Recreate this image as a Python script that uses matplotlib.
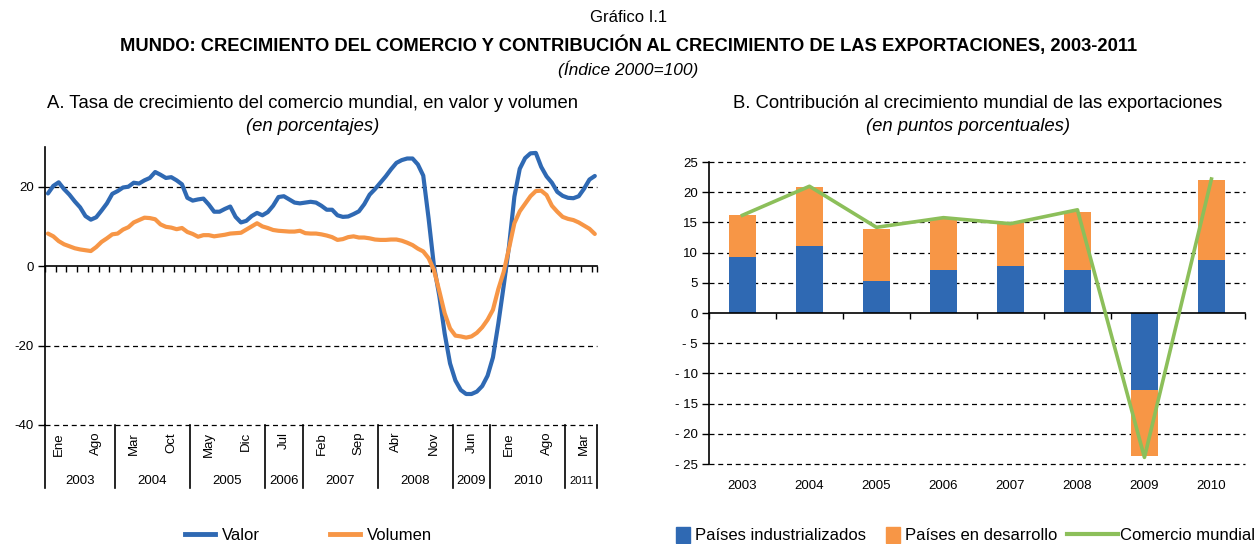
import numpy as np
import matplotlib.pyplot as plt
import matplotlib.patches as mpatches
from matplotlib.lines import Line2D

plt.rcParams['font.family'] = ['Liberation Sans', 'DejaVu Sans']
plt.rcParams['axes.unicode_minus'] = False

# --- datos panel A: tasa de crecimiento mensual (nov 2002 - may 2011) ---
meses = ['Ene', 'Feb', 'Mar', 'Abr', 'May', 'Jun', 'Jul', 'Ago', 'Sep', 'Oct', 'Nov', 'Dic']
anio_inicio = 2002
mes_inicio = 10  # noviembre

valor = [18.3, 20.2, 21.1, 19.4, 18.0, 16.3, 14.8, 12.6, 11.7, 12.3,
         14.0, 15.8, 18.2, 18.9, 19.8, 20.0, 21.0, 20.8, 21.6, 22.2,
         23.7, 23.0, 22.2, 22.4, 21.6, 20.6, 17.2, 16.5, 16.8, 17.0,
         15.5, 13.7, 13.7, 14.4, 15.0, 12.4, 11.0, 11.4, 12.6, 13.4,
         12.8, 13.6, 15.2, 17.4, 17.6, 16.8, 16.0, 15.8, 16.0, 16.2,
         16.0, 15.2, 14.2, 14.2, 12.8, 12.4, 12.5, 13.1, 13.8, 15.6,
         18.0, 19.4, 21.0, 22.6, 24.4, 26.0, 26.7, 27.1, 27.1, 25.6,
         22.8, 12.0, 0.0, -7.5, -17.0, -24.5, -28.8, -31.2, -32.2, -32.2,
         -31.6, -30.2, -27.6, -23.0, -14.5, -5.0, 5.0, 17.5, 24.5, 27.2,
         28.4, 28.5, 25.0, 22.6, 21.0, 18.7, 17.7, 17.2, 17.1, 17.6,
         19.5, 21.8, 22.7]

volumen = [8.2, 7.5, 6.3, 5.5, 5.0, 4.5, 4.2, 4.0, 3.8, 4.8,
           6.1, 7.0, 8.0, 8.2, 9.2, 9.8, 11.0, 11.6, 12.2, 12.1,
           11.8, 10.5, 9.9, 9.7, 9.3, 9.6, 8.6, 8.1, 7.4, 7.8,
           7.8, 7.5, 7.7, 7.9, 8.2, 8.3, 8.4, 9.2, 10.0, 10.8,
           10.0, 9.6, 9.1, 8.9, 8.8, 8.7, 8.7, 8.9, 8.3, 8.2,
           8.2, 8.0, 7.7, 7.3, 6.6, 6.8, 7.3, 7.5, 7.2, 7.2,
           7.0, 6.7, 6.6, 6.6, 6.7, 6.7, 6.4, 5.9, 5.3, 4.4,
           3.7, 2.0, -1.0, -6.3, -11.9, -15.7, -17.5, -17.7, -18.0, -17.7,
           -16.8, -15.4, -13.5, -11.0, -5.8, -1.5, 4.5, 10.8, 13.8, 15.7,
           17.6, 18.9, 19.0, 17.9, 15.2, 13.7, 12.4, 11.9, 11.6, 11.0,
           10.2, 9.4, 8.1]

# --- datos panel B: contribucion anual ---
anios_b = ['2003', '2004', '2005', '2006', '2007', '2008', '2009', '2010']
industrializados = [9.3, 11.1, 5.3, 7.1, 7.8, 7.2, -12.7, 8.8]
en_desarrollo = [7.0, 9.8, 8.7, 8.4, 7.2, 9.6, -11.0, 13.3]
comercio_mundial = [16.2, 21.0, 14.2, 15.8, 14.8, 17.1, -23.9, 22.2]

AZUL = '#2f69b3'
NARANJA = '#f79646'
VERDE = '#8cbf5a'

fig = plt.figure(figsize=(12.57, 5.44), dpi=100)

# titulos generales
fig.text(0.5, 0.968, 'Gráfico I.1', ha='center', va='center', fontsize=12)
fig.text(0.5, 0.917, 'MUNDO: CRECIMIENTO DEL COMERCIO Y CONTRIBUCIÓN AL CRECIMIENTO DE LAS EXPORTACIONES, 2003-2011',
         ha='center', va='center', fontsize=13.2, fontweight='bold')
fig.text(0.5, 0.873, '(Índice 2000=100)', ha='center', va='center', fontsize=12.5, style='italic')

fig.text(0.249, 0.809, 'A. Tasa de crecimiento del comercio mundial, en valor y volumen',
         ha='center', va='center', fontsize=13.3)
fig.text(0.249, 0.767, '(en porcentajes)', ha='center', va='center', fontsize=13.3, style='italic')
fig.text(0.778, 0.809, 'B. Contribución al crecimiento mundial de las exportaciones',
         ha='center', va='center', fontsize=13.3)
fig.text(0.77, 0.767, '(en puntos porcentuales)', ha='center', va='center', fontsize=13.3, style='italic')

dash = (0, (4, 3))

# ================= panel A =================
ax1 = fig.add_axes([0.0358, 0.2188, 0.4391, 0.511])
n = len(valor)
x = np.arange(n)
ax1.plot(x, valor, color=AZUL, lw=3, solid_capstyle='round', zorder=3)
ax1.plot(x, volumen, color=NARANJA, lw=3, solid_capstyle='round', zorder=3)

ax1.set_xlim(-0.55, n - 0.6)
ax1.set_ylim(-40, 30)
for g in [20, -20, -40]:
    ax1.axhline(g, color='black', lw=0.9, ls=dash, clip_on=False, zorder=1)

for s in ['top', 'right']:
    ax1.spines[s].set_visible(False)
ax1.spines['bottom'].set_position(('data', 0))
ax1.spines['bottom'].set_linewidth(1.2)
ax1.spines['left'].set_linewidth(1.2)
ax1.set_yticks([20, 0, -20, -40])
ax1.set_yticklabels(['20', '0', '-20', '-40'])
ax1.tick_params(axis='y', length=5, width=1, labelsize=9.5, pad=3)
ax1.set_xticks(list(np.arange(-0.55, n - 1, 2)) + [n - 0.6])
ax1.set_xticklabels([])
ax1.tick_params(axis='x', length=4, width=1, direction='out')

# etiquetas de meses cada 7 y agrupacion por anio
fechas = [(anio_inicio + (mes_inicio + i) // 12, (mes_inicio + i) % 12) for i in range(n)]
idx_lab = list(range(2, n, 7))
for i in idx_lab:
    ax1.annotate(meses[fechas[i][1]], xy=(i, 0), xycoords=('data', 'axes fraction'),
                 xytext=(0, -5), textcoords='offset points', rotation=90,
                 ha='center', va='top', fontsize=9.5)

cortes = [ax1.get_xlim()[0]]
for a, b in zip(idx_lab[:-1], idx_lab[1:]):
    if fechas[a][0] != fechas[b][0]:
        cortes.append((a + b) / 2)
cortes.append(ax1.get_xlim()[1])
anios_grupo = []
for i in idx_lab:
    if fechas[i][0] not in anios_grupo:
        anios_grupo.append(fechas[i][0])

trans = ax1.get_xaxis_transform()
for c in cortes:
    ax1.plot([c, c], [0, -0.227], color='black', lw=1.2, transform=trans, clip_on=False)
for k, anio in enumerate(anios_grupo):
    ancho = cortes[k + 1] - cortes[k]
    ax1.annotate(str(anio), xy=((cortes[k] + cortes[k + 1]) / 2, 0),
                 xycoords=('data', 'axes fraction'), xytext=(0, -40),
                 textcoords='offset points', ha='center', va='center',
                 fontsize=9.5 if ancho > 6 else 8)

h_a = [Line2D([], [], color=AZUL, lw=3.5), Line2D([], [], color=NARANJA, lw=3.5)]
fig.legend(h_a, ['Valor', 'Volumen'], loc='center left', bbox_to_anchor=(185 / 1257, 0.0165),
           ncol=2, frameon=False, fontsize=12, handlelength=1.8, borderpad=0,
           borderaxespad=0, handletextpad=0.42, columnspacing=4.2)

# ================= panel B =================
ax2 = fig.add_axes([0.5640, 0.147, 0.4264, 0.555])
xb = np.arange(len(anios_b))
ax2.bar(xb, industrializados, width=0.4, color=AZUL, zorder=2)
ax2.bar(xb, en_desarrollo, width=0.4, bottom=industrializados, color=NARANJA, zorder=2)
ax2.plot(xb, comercio_mundial, color=VERDE, lw=2.6, zorder=3)

ax2.set_xlim(-0.5, len(anios_b) - 0.5)
ax2.set_ylim(-25, 25)
yt = np.arange(-25, 30, 5)
for g in yt:
    if g != 0:
        ax2.axhline(g, color='black', lw=0.9, ls=dash, clip_on=False, zorder=1)
for s in ['top', 'right']:
    ax2.spines[s].set_visible(False)
ax2.spines['bottom'].set_position(('data', 0))
ax2.spines['bottom'].set_linewidth(1.2)
ax2.spines['left'].set_linewidth(1.2)
ax2.set_yticks(yt)
ax2.set_yticklabels([f'- {abs(v)}' if v < 0 else str(v) for v in yt])
ax2.tick_params(axis='y', length=5, width=1, labelsize=9.5, pad=3)
ax2.set_xticks(np.arange(-0.5, len(anios_b), 1))
ax2.set_xticklabels([])
ax2.tick_params(axis='x', length=4, width=1, direction='out')
for i, a in enumerate(anios_b):
    ax2.annotate(a, xy=(i, 0), xycoords=('data', 'axes fraction'), xytext=(0, -16),
                 textcoords='offset points', ha='center', va='center', fontsize=9.5)

# leyenda en dos partes (cuadros y linea)
h_b = [mpatches.Patch(color=AZUL), mpatches.Patch(color=NARANJA)]
fig.legend(h_b, ['Países industrializados', 'Países en desarrollo'],
           loc='center left', bbox_to_anchor=(676 / 1257, 0.0165), ncol=2, frameon=False,
           fontsize=12, handlelength=0.85, handleheight=1.1, handletextpad=0.3,
           columnspacing=1.2, borderpad=0, borderaxespad=0)
fig.legend([Line2D([], [], color=VERDE, lw=3)], ['Comercio mundial'],
           loc='center left', bbox_to_anchor=(1067 / 1257, 0.0165), frameon=False,
           fontsize=12, handlelength=3.05, handletextpad=0.12, borderpad=0, borderaxespad=0)

fig.savefig('out.png', dpi=100)
